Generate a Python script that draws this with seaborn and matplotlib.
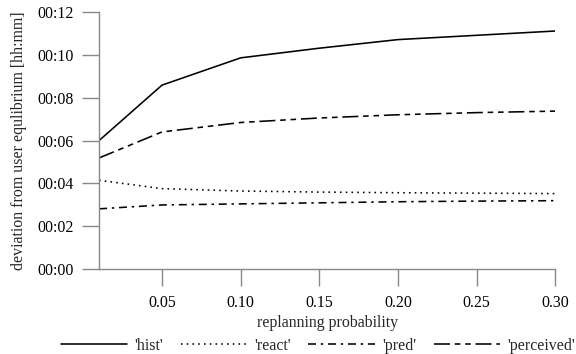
import seaborn as sns
import matplotlib.pyplot as plt
import pandas as pd
from matplotlib.ticker import FuncFormatter

sns.set_theme(style="ticks")
plt.rcParams['font.family'] = ['Liberation Serif', 'DejaVu Serif']

# replanning probability vs deviation from user equilibrium (minutes)
prob = [0.01, 0.05, 0.10, 0.15, 0.20, 0.25, 0.30]
hist = [6.0, 8.58, 9.85, 10.3, 10.7, 10.9, 11.1]
react = [4.15, 3.76, 3.65, 3.6, 3.57, 3.55, 3.53]
pred = [2.82, 3.0, 3.05, 3.1, 3.15, 3.18, 3.2]
perceived = [5.19, 6.4, 6.84, 7.05, 7.2, 7.3, 7.37]

names = ['hist', 'react', 'pred', 'perceived']
series = [hist, react, pred, perceived]

df = pd.concat([pd.DataFrame({'p': prob, 'dev': vals, 'series': n})
                for n, vals in zip(names, series)])

dash_map = {'hist': '', 'react': (1, 2.6), 'pred': (5, 3, 1.5, 3),
            'perceived': (10, 3, 3.5, 3, 3.5, 3)}

fs = 11.4

fig, ax = plt.subplots(figsize=(5.76, 3.54), dpi=100)
fig.subplots_adjust(left=0.172, right=0.964, top=0.967, bottom=0.239)

sns.lineplot(data=df, x='p', y='dev', style='series', style_order=names,
             dashes=dash_map, color='black', lw=1.15, legend=False, ax=ax)

ax.set_xlim(0.01, 0.30)
ax.set_ylim(0, 12)
ax.set_xticks([0.05, 0.10, 0.15, 0.20, 0.25, 0.30])
ax.set_yticks(range(0, 13, 2))
ax.xaxis.set_major_formatter(FuncFormatter(lambda v, _: f"{v:.2f}"))
ax.yaxis.set_major_formatter(FuncFormatter(lambda v, _: f"00:{int(round(v)):02d}"))

for side in ['top', 'right']:
    ax.spines[side].set_visible(False)
for side in ['left', 'bottom']:
    ax.spines[side].set_color('#888888')
    ax.spines[side].set_linewidth(1)
ax.tick_params(length=12.5, width=1, color='#888888', labelsize=fs,
               labelcolor='black', pad=6)

ax.set_xlabel('replanning probability', fontsize=fs, labelpad=3)
ax.set_ylabel('deviation from user equlibrium [hh:mm]', fontsize=fs, labelpad=7)

fig.legend(ax.lines[:4], [f"'{n}'" for n in names], loc='lower center',
           bbox_to_anchor=(0.552, -0.04), ncol=4, frameon=False, fontsize=fs,
           handlelength=4.2, handletextpad=0.45, columnspacing=1.1)

fig.savefig('out.png', dpi=100)
